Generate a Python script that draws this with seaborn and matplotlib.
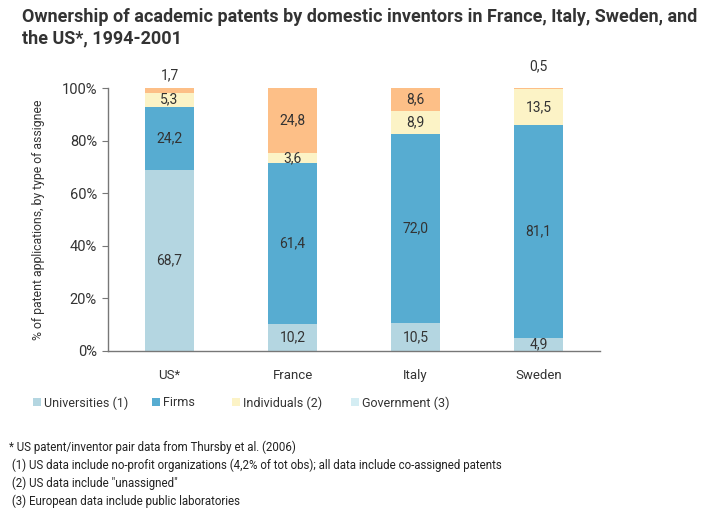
import matplotlib
matplotlib.use("Agg")
import matplotlib.pyplot as plt
import matplotlib.patches as mpatches
import seaborn as sns
import numpy as np
import pandas as pd

# Data
countries = ["US*", "France", "Italy", "Sweden"]
universities = [68.7, 10.2, 10.5, 4.9]
firms = [24.2, 61.4, 72.0, 81.1]
individuals = [5.3, 3.6, 8.9, 13.5]
government = [1.7, 24.8, 8.6, 0.5]

series_names = ["Universities (1)", "Firms", "Individuals (2)", "Government (3)"]
bar_colors = ["#b4d6e1", "#57acd1", "#fcf3c6", "#fdbf87"]
legend_colors = ["#b4d6e1", "#57acd1", "#fcf3c6", "#d4edf3"]
legend_x = [33, 152, 232, 351]  # pixel positions of the legend markers

sns.set_style("white")
plt.rcParams["font.family"] = ["Roboto", "DejaVu Sans"]

layers = np.array([universities, firms, individuals, government])
cum = layers.cumsum(axis=0)

W, H = 715, 519
fig = plt.figure(figsize=(W / 100, H / 100), dpi=100)
ax = fig.add_axes([108 / W, 1 - 351 / H, 492 / W, 263 / H])

# draw from the top of the stack down, each bar covering the ones beneath
for i in range(3, -1, -1):
    df = pd.DataFrame({"country": countries, "value": cum[i]})
    sns.barplot(data=df, x="country", y="value", color=bar_colors[i],
                width=0.4, saturation=1, ax=ax, linewidth=0, order=countries)

# value labels
for j in range(len(countries)):
    for i in range(4):
        v = layers[i, j]
        lab = f"{v:.1f}".replace(".", ",")
        if v < 2:
            y = 104.8 if j == 0 else 108.3
        else:
            y = cum[i, j] - v / 2
        ax.text(j, y, lab, ha="center", va="center", fontsize=10, color="#333333")

ax.set_ylim(0, 100)
ax.set_xlim(-0.5, 3.5)
ticks = [0, 20, 40, 60, 80, 100]
ax.set_yticks(ticks)
ax.set_yticklabels([f"{t}%" for t in ticks], fontsize=10.5, color="#333333")
ax.set_xticks(range(4))
ax.set_xticklabels(countries, fontsize=9.5, color="#333333")
ax.set_xticks([-0.5, 0.5, 1.5, 2.5, 3.5], minor=True)
ax.tick_params(axis="x", which="major", length=0, pad=13)
ax.tick_params(axis="x", which="minor", length=4, color="#777777", direction="out")
ax.tick_params(axis="y", length=4, color="#777777", direction="out", left=True, pad=4)
ax.set_xlabel("")
ax.set_ylabel("% of patent applications, by type of assignee", fontsize=8.8,
              color="#333333", labelpad=12)
sns.despine(ax=ax)
for s in ["left", "bottom"]:
    ax.spines[s].set_color("#777777")
    ax.spines[s].set_linewidth(1)

fig.text(22 / W, 1 - 8 / H,
         "Ownership of academic patents by domestic inventors in France, Italy, Sweden, and\nthe US*, 1994-2001",
         ha="left", va="top", fontsize=13, fontweight="bold", color="#333333", linespacing=1.25)

for c, n, x in zip(legend_colors, series_names, legend_x):
    h = mpatches.Patch(facecolor=c, edgecolor="none", label=n)
    fig.legend(handles=[h], loc="center left", bbox_to_anchor=(x / W, 1 - 403 / H),
               frameon=False, fontsize=9, handlelength=0.6, handleheight=0.6,
               handletextpad=0.25, borderpad=0, borderaxespad=0, labelcolor="#333333")

notes = ["* US patent/inventor pair data from Thursby et al. (2006)",
         " (1) US data include no-profit organizations (4,2% of tot obs); all data include co-assigned patents",
         " (2) US data include \"unassigned\"",
         " (3) European data include public laboratories"]
note_y = [447, 465, 483, 501]
for t, y in zip(notes, note_y):
    fig.text(9 / W, 1 - y / H, t, ha="left", va="center", fontsize=8.3, color="#222222")

fig.savefig("out.png", dpi=100)
